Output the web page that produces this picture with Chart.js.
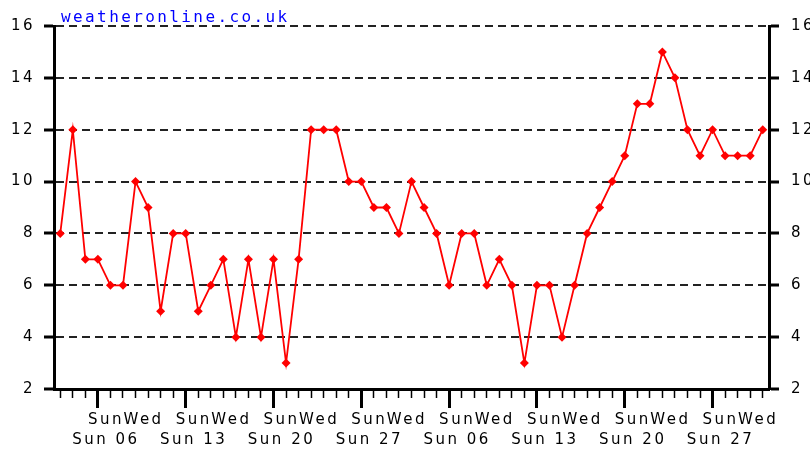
<!DOCTYPE html>
<html>
<head>
<meta charset="utf-8">
<script src="https://cdn.jsdelivr.net/npm/chart.js@4.4.0/dist/chart.umd.min.js"></script>
<style>
  html, body { margin: 0; padding: 0; background: #fff; overflow: hidden; }
  #wrap { width: 810px; height: 452px; position: relative; }
</style>
</head>
<body>
<div id="wrap"><canvas id="myChart"></canvas></div>
<script>
// daily values, Thu 03 Feb .. Thu 31 Mar
const values = [8, 12, 7, 7, 6, 6, 10, 9, 5, 8,
  8, 5, 6, 7, 4, 7, 4, 7, 3, 7,
  12, 12, 12, 10, 10, 9, 9, 8, 10, 9,
  8, 6, 8, 8, 6, 7, 6, 3, 6, 6,
  4, 6, 8, 9, 10, 11, 13, 13, 15, 14,
  12, 11, 12, 11, 11, 11, 12];
const dayNames = ['Sun', 'Mon', 'Tue', 'Wed', 'Thu', 'Fri', 'Sat'];
const firstWeekday = 4; // Thursday
const weekLabels = ['Sun 06', 'Sun 13', 'Sun 20', 'Sun 27', 'Sun 06', 'Sun 13', 'Sun 20', 'Sun 27'];
const yTicks = [2, 4, 6, 8, 10, 12, 14, 16];
const watermark = 'weatheronline.co.uk';

const categories = values.map((v, i) => dayNames[(i + firstWeekday) % 7]);
const isSunday = (i) => categories[i] === 'Sun';

// where the week labels go
let weekIdx = 0;
const bottomRow = categories.map((d) => d === 'Sun' ? weekLabels[weekIdx++] : '');

const spacing = '2.5px';
const spacingPlugin = {
  id: 'spacing',
  beforeLayout(chart) { chart.ctx.letterSpacing = spacing; },
  beforeDraw(chart) { chart.ctx.letterSpacing = spacing; }
};

const watermarkPlugin = {
  id: 'watermark',
  afterDraw(chart) {
    const ctx = chart.ctx;
    ctx.save();
    ctx.letterSpacing = '2.4px';
    ctx.font = '16px "DejaVu Sans Mono"';
    ctx.fillStyle = '#0000ff';
    ctx.textBaseline = 'alphabetic';
    ctx.textAlign = 'left';
    ctx.fillText(watermark, chart.chartArea.left + 7, 22);
    ctx.restore();
  }
};

Chart.defaults.font.family = '"DejaVu Sans"';
Chart.defaults.font.size = 15;
Chart.defaults.color = '#000';

const yAxis = (pos, w, pad) => ({
  position: pos,
  min: 2,
  max: 16,
  afterBuildTicks: (scale) => { scale.ticks = yTicks.map(v => ({ value: v })); },
  afterFit: (scale) => { scale.width = w; },
  border: { display: true, color: '#000', width: 3, dash: [8, 5] },
  grid: {
    display: true,
    drawOnChartArea: pos === 'left',
    color: '#222',
    lineWidth: 2,
    tickLength: 10,
    tickWidth: 3,
    tickColor: '#000',
    tickBorderDash: []
  },
  ticks: { padding: pad, color: '#000', font: { size: 15 } }
});

const ctx = document.getElementById('myChart').getContext('2d');
new Chart(ctx, {
  type: 'line',
  data: {
    labels: categories,
    datasets: [{
      data: values,
      borderColor: '#ff0000',
      backgroundColor: '#ff0000',
      borderWidth: 1.8,
      pointStyle: 'rectRot',
      pointRadius: 4.5,
      pointBorderWidth: 0,
      tension: 0,
      yAxisID: 'y'
    }]
  },
  options: {
    responsive: true,
    maintainAspectRatio: false,
    animation: false,
    layout: { padding: { left: 0, right: 0, top: 26, bottom: 0 } },
    plugins: { legend: { display: false }, tooltip: { enabled: false } },
    scales: {
      x: {
        offset: true,
        afterFit: (scale) => { scale.height = 63; },
        border: { display: true, color: '#000', width: 3 },
        grid: {
          drawOnChartArea: false,
          tickLength: 19,
          tickColor: '#000',
          tickWidth: (c) => isSunday(c.index) ? 3 : 1.5,
          tickBorderDash: (c) => isSunday(c.index) ? [] : [7, 100]
        },
        ticks: {
          autoSkip: false,
          maxRotation: 0,
          padding: 2,
          labelOffset: 8,
          font: { size: 15, lineHeight: 1.3333 },
          callback: (val, i) => {
            if (categories[i] === 'Sun') return ['Sun', bottomRow[i]];
            if (categories[i] === 'Wed') return ['Wed', ''];
            return '';
          }
        }
      },
      y: yAxis('left', 54, 9),
      y2: yAxis('right', 41, 12)
    }
  },
  plugins: [spacingPlugin, watermarkPlugin]
});
</script>
</body>
</html>
